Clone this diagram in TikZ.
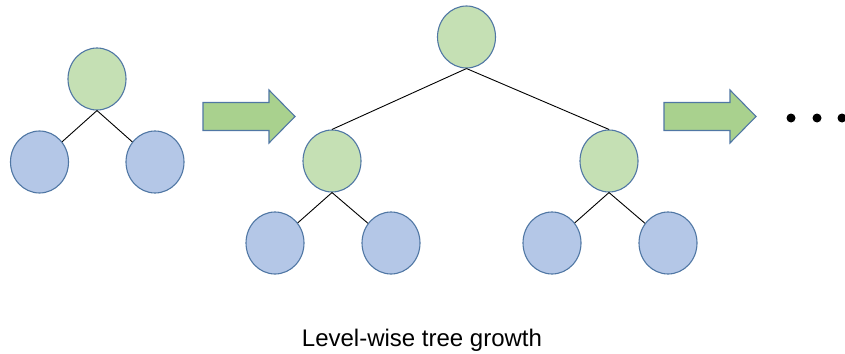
\documentclass[tikz,border=0pt]{standalone}
\usepackage{fontspec}
\setmainfont{Liberation Sans}
\usetikzlibrary{shapes.geometric}
\definecolor{leafblue}{HTML}{B4C7E7}
\definecolor{splitgreen}{HTML}{C5E0B4}
\definecolor{rimblue}{HTML}{5077A4}
\definecolor{arrowgreen}{HTML}{A9D18E}
\tikzset{
  treenode/.style={ellipse, draw=rimblue, line width=1.1pt, minimum width=58pt, minimum height=62pt, inner sep=0pt},
  inner/.style={treenode, fill=splitgreen},
  leaf/.style={treenode, fill=leafblue},
  edge/.style={draw=black, line width=0.9pt},
  bigarrow/.style={fill=arrowgreen, draw=rimblue, line width=1.1pt, line join=miter},
  dot/.style={circle, fill=black, inner sep=0pt, minimum size=9pt}
}
\begin{document}
\begin{tikzpicture}[x=1pt,y=-1pt]
  \useasboundingbox (0,0) rectangle (845,353);

  % first tree: one split
  \node[inner] (a0) at (97,79) {};
  \node[leaf]  (a1) at (39.5,162) {};
  \node[leaf]  (a2) at (155,162) {};
  \draw[edge] (a0.south) -- (a1);
  \draw[edge] (a0.south) -- (a2);

  % growth arrow
  \filldraw[bigarrow] (203,102.5) -- (269,102.5) -- (269,90) -- (295,116.5)
    -- (269,143) -- (269,130.5) -- (203,130.5) -- cycle;

  % second tree: grown one full level
  \node[inner] (b0) at (466.5,37) {};
  \node[inner] (b1) at (332,161) {};
  \node[inner] (b2) at (609,161) {};
  \node[leaf]  (b3) at (275,243) {};
  \node[leaf]  (b4) at (391,243) {};
  \node[leaf]  (b5) at (552,243) {};
  \node[leaf]  (b6) at (668,243) {};
  \draw[edge] (b0.south) -- (b1.north);
  \draw[edge] (b0.south) -- (b2.north);
  \draw[edge] (b1.south) -- (b3);
  \draw[edge] (b1.south) -- (b4);
  \draw[edge] (b2.south) -- (b5);
  \draw[edge] (b2.south) -- (b6);

  % second growth arrow
  \filldraw[bigarrow] (664,102.5) -- (730,102.5) -- (730,90) -- (756,116.5)
    -- (730,143) -- (730,130.5) -- (664,130.5) -- cycle;

  % ellipsis
  \node[dot] (d1) at (791,118) {};
  \node[dot] (d2) at (817,118) {};
  \node[dot] (d3) at (842,118) {};

  % caption
  \node[anchor=base, inner sep=0pt, font=\fontsize{24}{28}\selectfont] (cap) at (422,346) {Level-wise tree growth};
\end{tikzpicture}
\end{document}
